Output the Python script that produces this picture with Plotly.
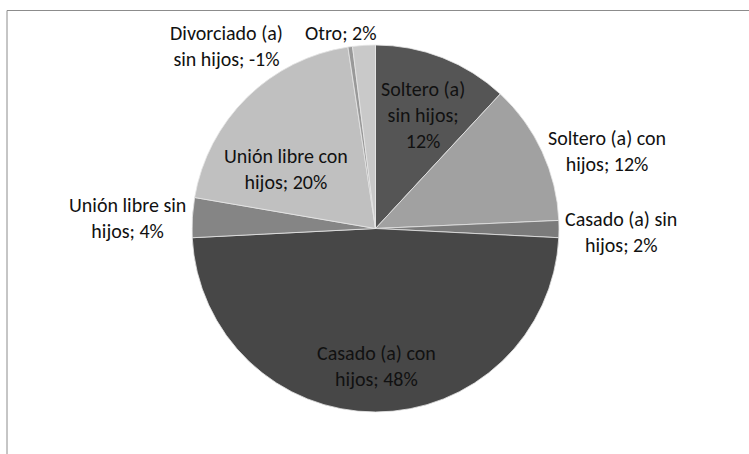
import plotly.graph_objects as go

categories = ["Soltero (a) sin hijos", "Soltero (a) con hijos", "Casado (a) sin hijos",
              "Casado (a) con hijos", "Unión libre sin hijos", "Unión libre con hijos",
              "Divorciado (a) sin hijos", "Otro"]
values = [11.9, 12.4, 1.5, 48.4, 3.5, 19.9, 0.4, 2.0]
label_text = ["Soltero (a)<br>sin hijos;<br>12%", "Soltero (a) con<br>hijos; 12%",
              "Casado (a) sin<br>hijos; 2%", "Casado (a) con<br>hijos; 48%",
              "Unión libre sin<br>hijos; 4%", "Unión libre con<br>hijos; 20%",
              "Divorciado (a)<br>sin hijos; -1%", "Otro; 2%"]
colors = ["#555555", "#a1a1a1", "#7b7b7b", "#474747", "#858585", "#c0c0c0", "#999999", "#c9c9c9"]

# label centres in screen pixels (layout only)
label_px = [(423, 115), (607, 151), (621, 232), (376, 366),
            (127, 218), (286, 169), (226, 46), (340, 33)]

W, H = 749, 454
FONT = "Carlito, 'Liberation Sans Narrow', 'DejaVu Sans Condensed', Lato, sans-serif"

fig = go.Figure(go.Pie(
    labels=categories, values=values,
    textinfo="none", sort=False, direction="clockwise", rotation=0,
    marker=dict(colors=colors, line=dict(color="#e6e6e6", width=0.8)),
    domain=dict(x=[(375.5 - 183.5) / W, (375.5 + 183.5) / W],
                y=[1 - 412 / H, 1 - 45 / H]),
    automargin=False, showlegend=False, hoverinfo="label+value",
))

annotations = []
for txt, (px, py) in zip(label_text, label_px):
    annotations.append(dict(
        text=txt, x=px / W, y=1 - py / H, xref="paper", yref="paper",
        xanchor="center", yanchor="middle", showarrow=False, align="center",
        font=dict(family=FONT, size=20, color="#111111"),
    ))

fig.update_layout(
    width=W, height=H, margin=dict(l=0, r=0, t=0, b=0),
    paper_bgcolor="white", plot_bgcolor="white",
    font=dict(family=FONT, size=20, color="#111111"),
    annotations=annotations,
    shapes=[dict(type="rect", xref="paper", yref="paper",
                 x0=7 / W, x1=1.05, y0=-0.05, y1=1 - 10.5 / H,
                 line=dict(color="#8c8c8c", width=1), fillcolor="rgba(0,0,0,0)", layer="below")],
)

fig.write_html("out.html", config={"displayModeBar": False},
               post_script="document.body.style.margin='0px';")
